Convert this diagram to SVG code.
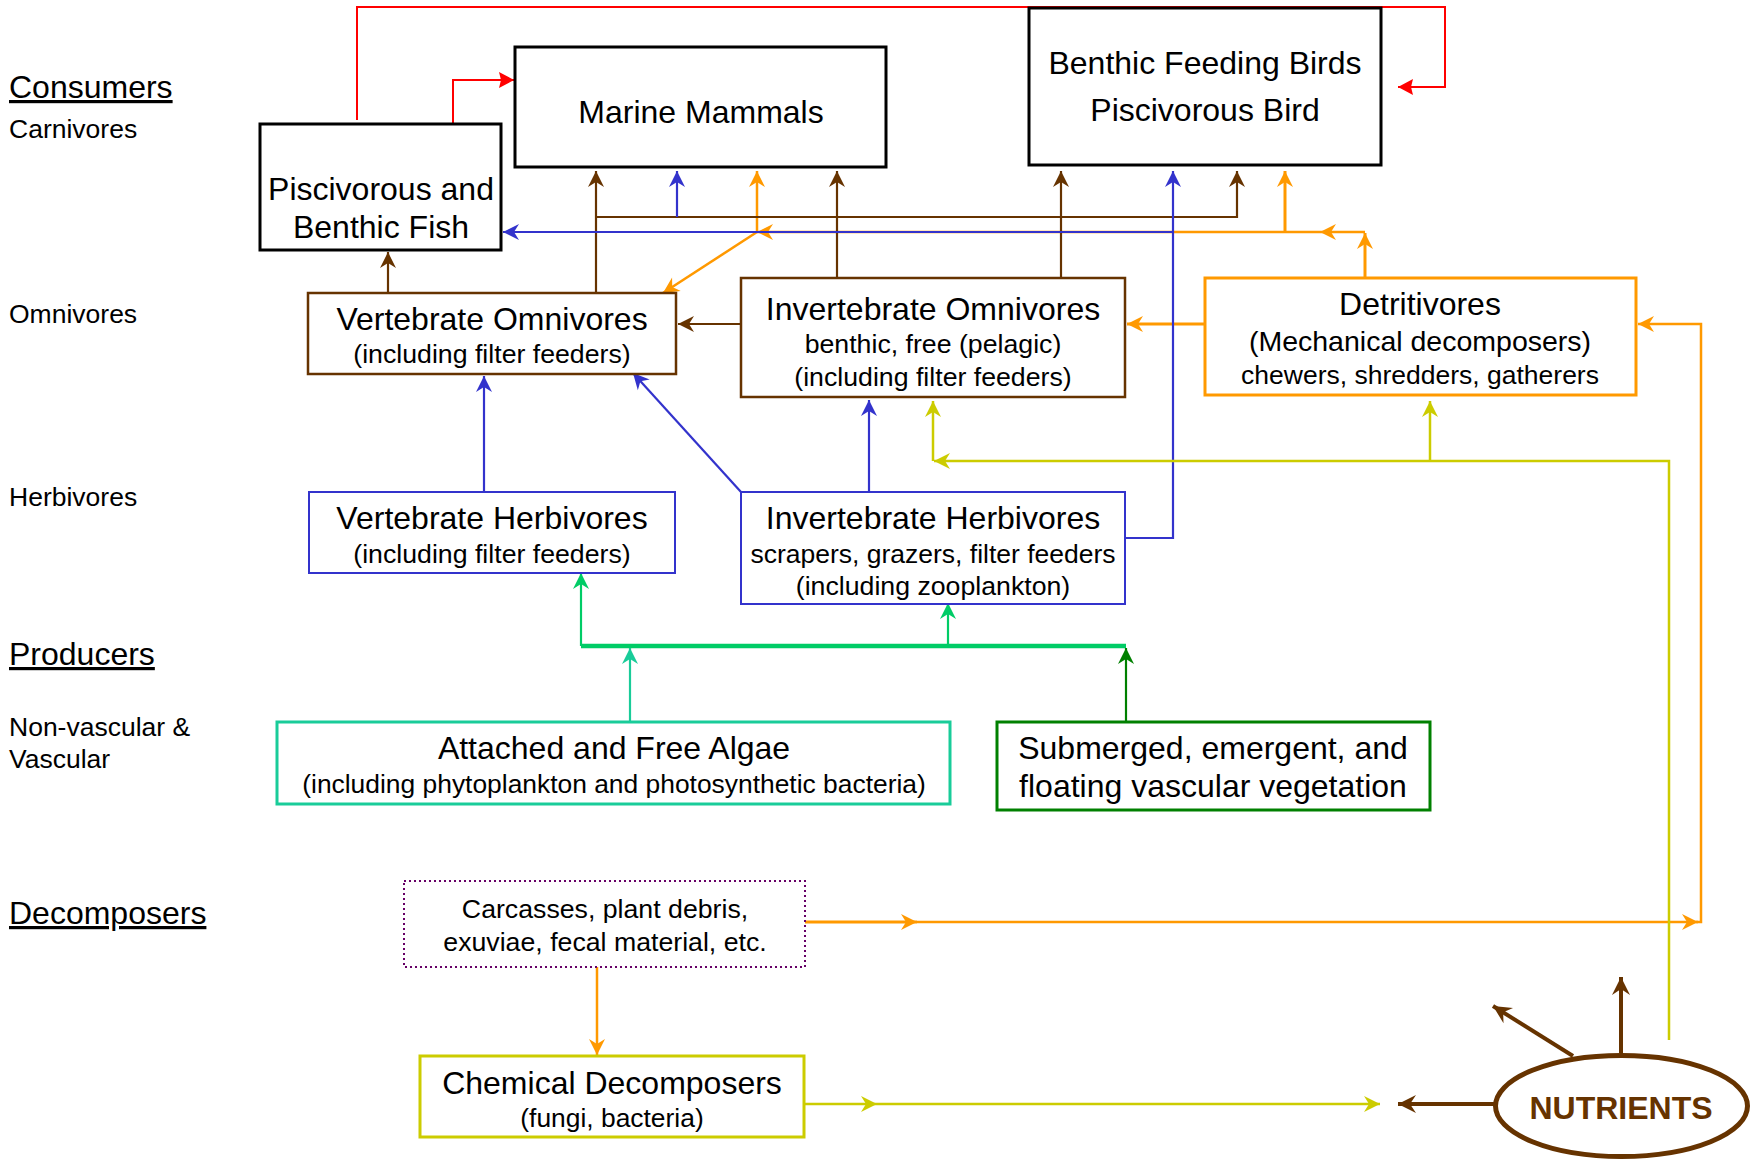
<svg xmlns="http://www.w3.org/2000/svg" width="1757" height="1160" viewBox="0 0 1757 1160">
<style>
text{font-family:"Liberation Sans",Arial,sans-serif;fill:#000}
.t{font-size:32px;text-anchor:middle}
.s{font-size:26.7px;text-anchor:middle}
.lab{font-size:26.5px}
.hd{font-size:32px;text-decoration:underline}
.box{fill:#fff}
.c{fill:none;stroke-linejoin:miter}
.br{stroke:#663300;stroke-width:2.2}
.bl{stroke:#3333cc;stroke-width:2.2}
.or{stroke:#ff9900;stroke-width:2.5}
.ye{stroke:#cccc00;stroke-width:2.5}
.rd{stroke:#ff0000;stroke-width:2}
.gr{stroke:#00cc66;stroke-width:2.2}
.te{stroke:#19cc99;stroke-width:2.2}
.dg{stroke:#008000;stroke-width:2.2}
</style>
<defs>
<marker id="mBr" viewBox="-17 -9 18 18" markerWidth="18" markerHeight="18" refX="0" refY="0" orient="auto" markerUnits="userSpaceOnUse"><path d="M0,0 L-16,-8 L-11,0 L-16,8 Z" fill="#663300"/></marker>
<marker id="mBl" viewBox="-17 -9 18 18" markerWidth="18" markerHeight="18" refX="0" refY="0" orient="auto" markerUnits="userSpaceOnUse"><path d="M0,0 L-16,-8 L-11,0 L-16,8 Z" fill="#3333cc"/></marker>
<marker id="mOr" viewBox="-17 -9 18 18" markerWidth="18" markerHeight="18" refX="0" refY="0" orient="auto" markerUnits="userSpaceOnUse"><path d="M0,0 L-16,-8 L-11,0 L-16,8 Z" fill="#ff9900"/></marker>
<marker id="mYe" viewBox="-17 -9 18 18" markerWidth="18" markerHeight="18" refX="0" refY="0" orient="auto" markerUnits="userSpaceOnUse"><path d="M0,0 L-16,-8 L-11,0 L-16,8 Z" fill="#cccc00"/></marker>
<marker id="mRd" viewBox="-17 -9 18 18" markerWidth="18" markerHeight="18" refX="0" refY="0" orient="auto" markerUnits="userSpaceOnUse"><path d="M0,0 L-15,-8 L-13,0 L-15,8 Z" fill="#ff0000"/></marker>
<marker id="mGr" viewBox="-17 -9 18 18" markerWidth="18" markerHeight="18" refX="0" refY="0" orient="auto" markerUnits="userSpaceOnUse"><path d="M0,0 L-16,-8 L-11,0 L-16,8 Z" fill="#00cc66"/></marker>
<marker id="mTe" viewBox="-17 -9 18 18" markerWidth="18" markerHeight="18" refX="0" refY="0" orient="auto" markerUnits="userSpaceOnUse"><path d="M0,0 L-16,-8 L-11,0 L-16,8 Z" fill="#19cc99"/></marker>
<marker id="mDg" viewBox="-17 -9 18 18" markerWidth="18" markerHeight="18" refX="0" refY="0" orient="auto" markerUnits="userSpaceOnUse"><path d="M0,0 L-16,-8 L-11,0 L-16,8 Z" fill="#008000"/></marker>
<marker id="mBrL" viewBox="-20 -10 21 20" markerWidth="21" markerHeight="20" refX="0" refY="0" orient="auto" markerUnits="userSpaceOnUse"><path d="M0,0 L-18,-9 L-12,0 L-18,9 Z" fill="#663300"/></marker>
</defs>
<rect width="1757" height="1160" fill="#fff"/>

<g id="labels">
<text class="hd" x="9" y="98">Consumers</text>
<text class="lab" x="9" y="138">Carnivores</text>
<text class="lab" x="9" y="323">Omnivores</text>
<text class="lab" x="9" y="506">Herbivores</text>
<text class="hd" x="9" y="665">Producers</text>
<text class="lab" x="9" y="736">Non-vascular &amp;</text>
<text class="lab" x="9" y="768">Vascular</text>
<text class="hd" x="9" y="924">Decomposers</text>
</g>

<g id="connectors">
<g class="c">
<path class="or" d="M1365,232 L1320,232" marker-end="url(#mOr)"/>
<path class="or" d="M1320,232 L757,232" marker-end="url(#mOr)"/>
<path class="or" style="stroke-width:3" d="M1365,277 L1365,233" marker-end="url(#mOr)"/>
<path class="or" d="M757,232 L757,171" marker-end="url(#mOr)"/>
<path class="or" d="M757,232 L663,293" marker-end="url(#mOr)"/>
<path class="or" style="stroke-width:3" d="M1285,232 L1285,171" marker-end="url(#mOr)"/>
<path class="or" style="stroke-width:3" d="M1205,324 L1127,324" marker-end="url(#mOr)"/>
<path class="or" style="stroke-width:3" d="M805,922 L917,922" marker-end="url(#mOr)"/>
<path class="or" d="M917,922 L1698,922" marker-end="url(#mOr)"/>
<path class="or" d="M1696,922 L1701,922 L1701,324 L1638,324" marker-end="url(#mOr)"/>
<path class="or" d="M597,960 L597,1055" marker-end="url(#mOr)"/>

<path class="br" d="M388,293 L388,252" marker-end="url(#mBr)"/>
<path class="br" d="M596,293 L596,171" marker-end="url(#mBr)"/>
<path class="br" d="M596,217 L1237,217 L1237,171" marker-end="url(#mBr)"/>
<path class="br" d="M837,278 L837,171" marker-end="url(#mBr)"/>
<path class="br" d="M1061,278 L1061,171" marker-end="url(#mBr)"/>
<path class="br" d="M741,324 L678,324" marker-end="url(#mBr)"/>

<path class="bl" d="M484,492 L484,376" marker-end="url(#mBl)"/>
<path class="bl" d="M741,492 L633,373" marker-end="url(#mBl)"/>
<path class="bl" d="M869,492 L869,400" marker-end="url(#mBl)"/>
<path class="bl" d="M677,217 L677,171" marker-end="url(#mBl)"/>
<path class="bl" d="M1125,538 L1173,538 L1173,171" marker-end="url(#mBl)"/>
<path class="bl" d="M1173,232 L503,232" marker-end="url(#mBl)"/>

<path class="ye" d="M804,1104 L877,1104" marker-end="url(#mYe)"/>
<path class="ye" d="M877,1104 L1380,1104" marker-end="url(#mYe)"/>
<path class="ye" d="M1669,1040 L1669,461 L934,461" marker-end="url(#mYe)"/>
<path class="ye" d="M933,461 L933,401" marker-end="url(#mYe)"/>
<path class="ye" d="M1430,461 L1430,401" marker-end="url(#mYe)"/>

<path class="rd" d="M357,120 L357,7 L1445,7 L1445,87 L1398,87" marker-end="url(#mRd)"/>
<path class="rd" d="M453,124 L453,80 L514,80" marker-end="url(#mRd)"/>

<path d="M581,646 L1126,646" stroke="#00cc66" stroke-width="4.5"/>
<path class="gr" d="M581,646 L581,573" marker-end="url(#mGr)"/>
<path class="gr" d="M948,646 L948,603" marker-end="url(#mGr)"/>
<path class="te" d="M630,722 L630,648" marker-end="url(#mTe)"/>
<path class="dg" d="M1126,722 L1126,648" marker-end="url(#mDg)"/>

<path class="br" style="stroke-width:4" d="M1621,1053 L1621,977" marker-end="url(#mBrL)"/>
<path class="br" style="stroke-width:4" d="M1573,1056 L1493,1006" marker-end="url(#mBrL)"/>
<path class="br" style="stroke-width:4" d="M1495,1104 L1398,1104" marker-end="url(#mBrL)"/>
</g>
</g>

<g id="fish">
<rect class="box" x="260" y="124" width="241" height="126" stroke="#000" stroke-width="3"/>
<text class="t" x="381" y="200">Piscivorous and</text>
<text class="t" x="381" y="238">Benthic Fish</text>
</g>
<g id="mammals">
<rect class="box" x="515" y="47" width="371" height="120" stroke="#000" stroke-width="3"/>
<text class="t" x="701" y="123">Marine Mammals</text>
</g>
<g id="birds">
<rect class="box" x="1029" y="8" width="352" height="157" stroke="#000" stroke-width="3"/>
<text class="t" x="1205" y="74">Benthic Feeding Birds</text>
<text class="t" x="1205" y="121">Piscivorous Bird</text>
</g>
<g id="vert-omni">
<rect class="box" x="308" y="293" width="368" height="81" stroke="#663300" stroke-width="2.5"/>
<text class="t" x="492" y="330">Vertebrate Omnivores</text>
<text class="s" x="492" y="363">(including filter feeders)</text>
</g>
<g id="invert-omni">
<rect class="box" x="741" y="278" width="384" height="119" stroke="#663300" stroke-width="2.5"/>
<text class="t" x="933" y="320">Invertebrate Omnivores</text>
<text class="s" x="933" y="353">benthic, free (pelagic)</text>
<text class="s" x="933" y="386">(including filter feeders)</text>
</g>
<g id="detritivores">
<rect class="box" x="1205" y="278" width="431" height="117" stroke="#ff9900" stroke-width="3"/>
<text class="t" x="1420" y="315">Detritivores</text>
<text class="s" x="1420" y="351" style="font-size:28.5px">(Mechanical decomposers)</text>
<text class="s" x="1420" y="384" style="font-size:26.5px">chewers, shredders, gatherers</text>
</g>
<g id="vert-herb">
<rect class="box" x="309" y="492" width="366" height="81" stroke="#3333cc" stroke-width="2"/>
<text class="t" x="492" y="529">Vertebrate Herbivores</text>
<text class="s" x="492" y="563">(including filter feeders)</text>
</g>
<g id="invert-herb">
<rect class="box" x="741" y="492" width="384" height="112" stroke="#3333cc" stroke-width="2"/>
<text class="t" x="933" y="529">Invertebrate Herbivores</text>
<text class="s" x="933" y="563" style="font-size:26.5px">scrapers, grazers, filter feeders</text>
<text class="s" x="933" y="595">(including zooplankton)</text>
</g>
<g id="algae">
<rect class="box" x="277" y="722" width="673" height="82" stroke="#19cc99" stroke-width="3"/>
<text class="t" x="614" y="759">Attached and Free Algae</text>
<text class="s" x="614" y="793" style="font-size:26.4px">(including phytoplankton and photosynthetic bacteria)</text>
</g>
<g id="vascular">
<rect class="box" x="997" y="722" width="433" height="88" stroke="#008000" stroke-width="3"/>
<text class="t" x="1213" y="759">Submerged, emergent, and</text>
<text class="t" x="1213" y="797">floating vascular vegetation</text>
</g>
<g id="carcasses">
<rect class="box" x="404" y="881" width="401" height="86" stroke="#660066" stroke-width="2" stroke-dasharray="2 3"/>
<text class="s" x="605" y="918">Carcasses, plant debris,</text>
<text class="s" x="605" y="951">exuviae, fecal material, etc.</text>
</g>
<g id="chemical">
<rect class="box" x="420" y="1056" width="384" height="81" stroke="#cccc00" stroke-width="3"/>
<text class="t" x="612" y="1094">Chemical Decomposers</text>
<text class="s" x="612" y="1127" style="font-size:26.4px">(fungi, bacteria)</text>
</g>
<g id="nutrients">
<ellipse cx="1621.5" cy="1106" rx="126" ry="50.5" fill="#fff" stroke="#663300" stroke-width="5"/>
<text x="1621" y="1119" style="font-size:32px;font-weight:bold;text-anchor:middle;fill:#663300">NUTRIENTS</text>
</g>
</svg>
